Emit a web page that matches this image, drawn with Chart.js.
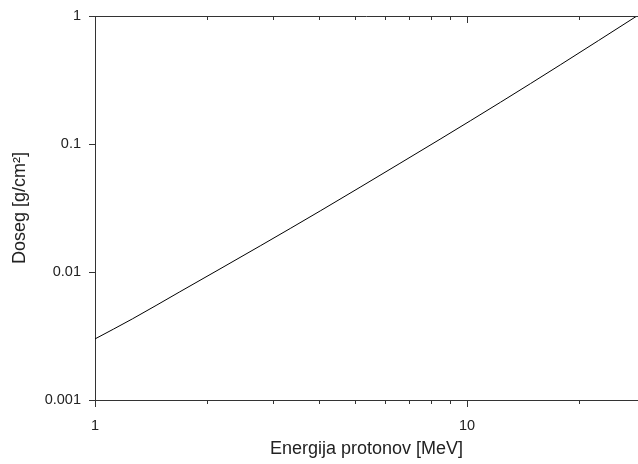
<!DOCTYPE html>
<html><head><meta charset="utf-8">
<script src="https://cdn.jsdelivr.net/npm/chart.js@4/dist/chart.umd.min.js"></script>
<style>html,body{margin:0;padding:0;background:#fff}canvas{display:block}</style>
</head>
<body>
<canvas id="c" width="638" height="464"></canvas>
<script>
const energy = [1, 1.26, 1.69, 2.78, 4.03, 6.6, 8.46, 12.3, 17.8, 28.6];
const range  = [0.0030, 0.0043, 0.0070, 0.0160, 0.0300, 0.0706, 0.109, 0.212, 0.415, 1.0];
const xTicks = [1, 2, 3, 4, 5, 6, 7, 8, 9, 10, 20];
const xMajorTicks = [1, 10];
const xTickLabels = ['1', '10'];
const yTicks = [0.001, 0.01, 0.1, 1];
const yTickLabels = ['0.001', '0.01', '0.1', '1'];
const xTitle = 'Energija protonov [MeV]';
const yTitle = 'Doseg [g/cm²]';

Chart.defaults.font.family = '"Liberation Sans", Arial, sans-serif';
Chart.defaults.color = '#222';

const axisColor = '#333';

const tickPlugin = {
  id: 'customTicks',
  afterDraw(chart) {
    const {ctx, chartArea: a, scales: {x, y}} = chart;
    ctx.save();
    ctx.strokeStyle = axisColor;
    ctx.lineWidth = 1;
    ctx.beginPath();
    ctx.moveTo(a.left, a.top + 0.5);
    ctx.lineTo(a.right, a.top + 0.5);
    x.ticks.forEach(t => {
      const p = Math.round(x.getPixelForValue(t.value)) + 0.5;
      const L = xMajorTicks.includes(t.value) ? 7 : 4;
      ctx.moveTo(p, a.bottom); ctx.lineTo(p, a.bottom + L);
      ctx.moveTo(p, a.top); ctx.lineTo(p, a.top + L);
    });
    y.ticks.forEach(t => {
      const p = Math.round(y.getPixelForValue(t.value)) + 0.5;
      ctx.moveTo(a.left - 6, p); ctx.lineTo(a.left, p);
    });
    ctx.stroke();
    ctx.restore();
  }
};

new Chart(document.getElementById('c'), {
  type: 'scatter',
  data: {
    datasets: [{
      data: energy.map((e, i) => ({x: e, y: range[i]})),
      showLine: true,
      borderColor: '#000',
      borderWidth: 1,
      pointRadius: 0,
      cubicInterpolationMode: 'monotone'
    }]
  },
  options: {
    responsive: false,
    animation: false,
    layout: {padding: {left: 0, top: 16, right: 0, bottom: 0}},
    plugins: {legend: {display: false}, tooltip: {enabled: false}},
    scales: {
      x: {
        type: 'logarithmic',
        min: 1, max: 28.8,
        afterFit(s) { s.height = 64; s.paddingLeft = 0; s.paddingRight = 0; },
        afterBuildTicks(s) { s.ticks = xTicks.map(v => ({value: v})); },
        grid: {drawOnChartArea: false, drawTicks: false},
        border: {display: true, color: axisColor, width: 1},
        ticks: {
          autoSkip: false, maxRotation: 0, padding: 17,
          font: {size: 14.5},
          callback: v => { const i = xMajorTicks.indexOf(v); return i >= 0 ? xTickLabels[i] : ''; }
        },
        title: {display: true, text: xTitle, font: {size: 18}, padding: {top: 0, bottom: 4}}
      },
      y: {
        type: 'logarithmic',
        min: 0.001, max: 1,
        afterFit(s) { s.width = 95; s.paddingTop = 0; s.paddingBottom = 0; },
        afterBuildTicks(s) { s.ticks = yTicks.map(v => ({value: v})); },
        grid: {drawOnChartArea: false, drawTicks: false},
        border: {display: true, color: axisColor, width: 1},
        ticks: {
          autoSkip: false, padding: 14,
          font: {size: 14.5},
          callback: v => { const i = yTicks.indexOf(v); return i >= 0 ? yTickLabels[i] : ''; }
        },
        title: {display: true, text: yTitle, font: {size: 18}, padding: {top: 9, bottom: 0}}
      }
    }
  },
  plugins: [tickPlugin]
});
</script>
</body></html>
